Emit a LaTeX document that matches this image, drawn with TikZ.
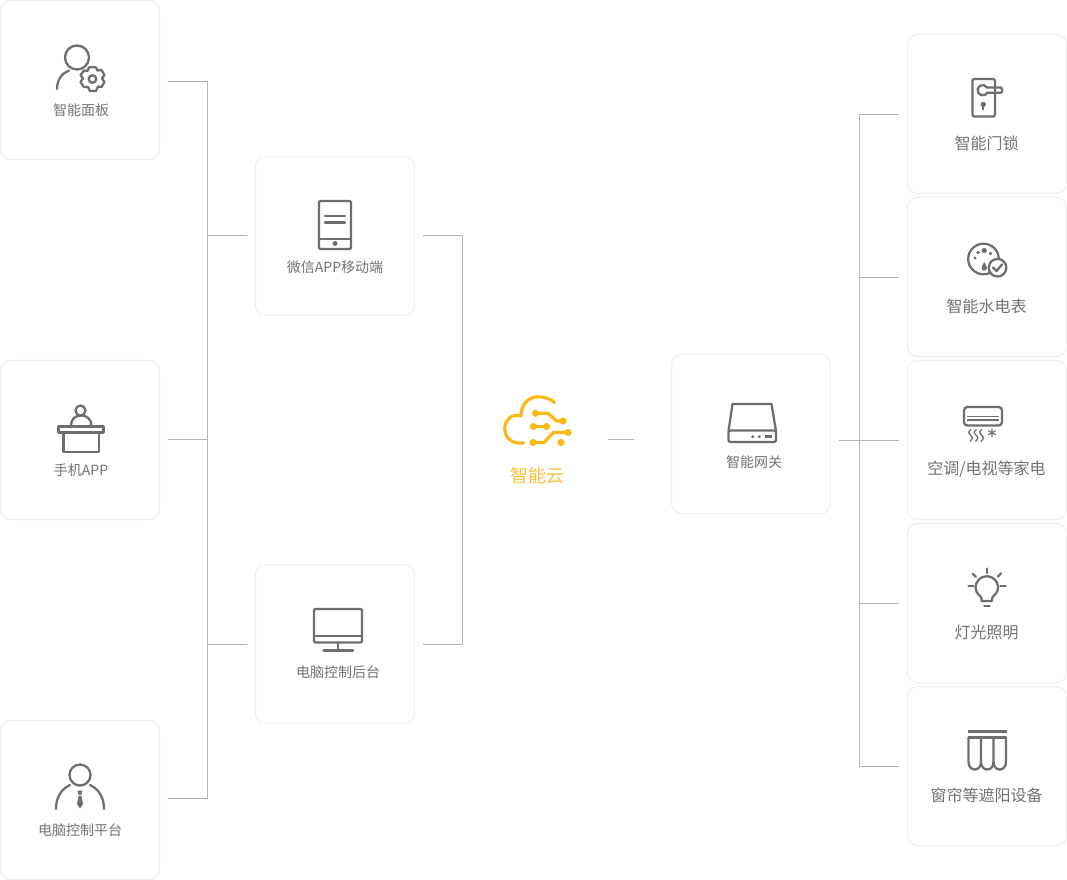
\documentclass[tikz,border=0pt]{standalone}
\usepackage{fontspec}
\setmainfont{Noto Sans CJK SC}
\definecolor{boxline}{HTML}{EEEEEE}
\definecolor{wirec}{HTML}{B4B4B4}
\definecolor{iconc}{HTML}{6E6E6E}
\definecolor{textc}{HTML}{727272}
\definecolor{cloudc}{HTML}{FDB913}
\definecolor{cloudt}{HTML}{FCC13A}
\tikzset{
  card/.style={draw=boxline,line width=0.75pt,fill=white,rounded corners=7.5pt,minimum width=119.25pt,minimum height=119.25pt,inner sep=0pt},
  wire/.style={draw=wirec,line width=0.75pt},
  ico/.style={draw=iconc,line width=1.7pt,line cap=round,line join=round},
  icof/.style={fill=iconc,draw=none},
  cld/.style={draw=cloudc,line width=2.4pt,line cap=round,line join=round},
  cldf/.style={fill=cloudc,draw=none},
  lab/.style={text=textc,inner sep=0pt,font=\fontsize{10.5pt}{12pt}\selectfont},
  labb/.style={text=textc,inner sep=0pt,font=\fontsize{12pt}{14pt}\selectfont},
}
\begin{document}
\begin{tikzpicture}[x=0.75pt,y=-0.75pt]
\useasboundingbox (0,0) rectangle (1067,880);
% cards
\node[card] (a1) at (80,80) {};
\node[card] (a2) at (80,440) {};
\node[card] (a3) at (80,800) {};
\node[card] (b1) at (335,236) {};
\node[card] (b2) at (335,644) {};
\node[card] (gw) at (751,434) {};
\node[card] (r1) at (987,114) {};
\node[card] (r2) at (987,277) {};
\node[card] (r3) at (987,440) {};
\node[card] (r4) at (987,603) {};
\node[card] (r5) at (987,766) {};
% labels
\node[lab] (la1) at (81,110) {智能面板};
\node[lab] (la2) at (81,470) {手机APP};
\node[lab] (la3) at (80,830) {电脑控制平台};
\node[lab] (lb1) at (335,267) {微信APP移动端};
\node[lab] (lb2) at (338,672) {电脑控制后台};
\node[lab] (lgw) at (754,462) {智能网关};
\node[labb] (lr1) at (986.5,143) {智能门锁};
\node[labb] (lr2) at (986.5,306) {智能水电表};
\node[labb] (lr3) at (986.5,469) {空调/电视等家电};
\node[labb] (lr4) at (986.5,632) {灯光照明};
\node[labb] (lr5) at (986.5,795) {窗帘等遮阳设备};
\node[inner sep=0pt,text=cloudt,font=\fontsize{13.5pt}{16pt}\selectfont] (lc) at (537,476) {智能云};
% connector coordinates
\coordinate (a1o) at (168,81.5);
\coordinate (a2o) at (168,439.5);
\coordinate (a3o) at (168,798.5);
\coordinate (j1) at (207.5,235.5);
\coordinate (j2) at (207.5,644.5);
\coordinate (b1i) at (247,235.5);
\coordinate (b2i) at (247,644.5);
\coordinate (b1o) at (423,235.5);
\coordinate (b2o) at (423,644.5);
\coordinate (bb) at (462.5,439.5);
\coordinate (co) at (608,439.5);
\coordinate (gi) at (634,439.5);
\coordinate (go) at (839,440.5);
\coordinate (rj) at (859.5,440.5);
\coordinate (r1i) at (899,114.5);
\coordinate (r2i) at (899,277.5);
\coordinate (r3i) at (899,440.5);
\coordinate (r4i) at (899,603.5);
\coordinate (r5i) at (899,766.5);
% connectors
\draw[wire] (a1o) -| (j1) -- (j2) |- (a3o);
\draw[wire] (a2o) -- (a2o -| j1);
\draw[wire] (j1) -- (b1i);
\draw[wire] (j2) -- (b2i);
\draw[wire] (b1o) -| (bb) |- (b2o);
\draw[wire] (co) -- (gi);
\draw[wire] (go) -- (r3i);
\draw[wire] (r1i) -| (rj) |- (r5i);
\draw[wire] (r2i) -- (r2i -| rj);
\draw[wire] (r4i) -- (r4i -| rj);
% icon a1: person with gear
\draw[ico] (77,57.5) circle (12);
\draw[ico] (57,89) .. controls (57,80) and (62,73) .. (69,70.5);
\draw[ico] (92.5,67) -- (96,67.5) -- (97.5,70.5) -- (101.5,70) -- (104.5,75) -- (102,78.5) -- (104.5,82) -- (101.5,87) -- (98,86.5) -- (96,91) -- (90,91) -- (88,87) -- (84,87) -- (80.5,82) -- (83,78.5) -- (80.5,75) -- (84,70.5) -- (87.5,71) -- (89,67.5) -- cycle;
\draw[ico] (92.5,79) circle (3.8);
% icon a2: desk
\draw[ico] (80.5,410.5) circle (5);
\draw[ico] (71,426) .. controls (71,419) and (75,415.5) .. (81,415.5) .. controls (87,415.5) and (91.5,419) .. (91.5,426);
\draw[ico] (58.5,426.5) rectangle (103.5,432.5);
\draw[ico] (63.5,432.5) -- (63.5,452) -- (99,452) -- (99,432.5);
% icon a3: person with tie
\draw[ico] (80,775) circle (10.5);
\draw[ico] (56,809) .. controls (56,798) and (61,789) .. (70,785);
\draw[ico] (104,809) .. controls (104,798) and (99,789) .. (90,785);
\fill[icof] (77.5,790.5) -- (82.5,790.5) -- (81.2,795) -- (78.8,795) -- cycle;
\fill[icof] (78.6,796) -- (81.4,796) -- (83,804) -- (80,808.5) -- (77,804) -- cycle;
% icon b1: phone
\draw[ico,rounded corners=1pt] (319,201) rectangle (351,249);
\draw[ico] (319,239) -- (351,239);
\draw[ico] (325,216) -- (345,216);
\draw[ico] (325,222.5) -- (345,222.5);
\fill[icof] (335,243.5) circle (2.5);
% icon b2: monitor
\draw[ico,rounded corners=1pt] (314,609) rectangle (362,642.5);
\draw[ico] (314,636) -- (362,636);
\draw[ico] (338,642.5) -- (338,650.5);
\draw[ico] (323.5,650.5) -- (353,650.5);
% cloud
\draw[cld] (554.5,402.5) .. controls (551,399) and (544,396.5) .. (537.5,396.8) .. controls (528,397.2) and (521,405) .. (521,415.5);
\draw[cld] (521,416) .. controls (512,413) and (504.8,420) .. (504.8,428.5) .. controls (504.8,437) and (511,443) .. (518,443) -- (523.5,443);
\draw[cld] (535.5,413.3) -- (548,413.3) -- (556.5,421) -- (563,421);
\fill[cldf] (535.5,413.3) circle (3.6);
\fill[cldf] (563,421) circle (3.6);
\draw[cld] (532.5,426.5) -- (546.5,426.5);
\fill[cldf] (533.5,426.5) circle (3.6);
\fill[cldf] (546.5,426.5) circle (3.6);
\draw[cld] (533,442.5) -- (544,442.5) -- (553.5,432.5) -- (568,432.5);
\fill[cldf] (533,442.5) circle (3.6);
\fill[cldf] (568,432.5) circle (3.6);
\fill[cldf] (561,442.5) circle (3.6);
% gateway icon
\draw[ico] (728.5,431) -- (732.5,404) -- (771.5,404) -- (776,431);
\draw[ico,rounded corners=1.5pt] (728.5,430.5) rectangle (776,442);
\fill[icof] (752.7,436.7) circle (1.6);
\fill[icof] (759.3,436.7) circle (1.6);
\fill[icof] (764.5,435.2) rectangle (771.5,438.2);
% r1 lock
\draw[ico,rounded corners=1.5pt] (972.5,79) rectangle (995,116.5);
\draw[ico] (987.2,87.6) -- (1001,87.6) .. controls (1002.5,87.6) and (1002.5,92.8) .. (1001,92.8) -- (987.2,92.8);
\draw[ico] (987.2,87.6) arc[start angle=-30,end angle=-330,radius=5.2];
\fill[icof] (983.3,104.5) circle (2.7);
\fill[icof] (982.2,105) rectangle (984.4,110);
% r2 meter
\draw[ico] (983.5,259) circle (15.3);
\draw[ico,fill=white] (997.5,267.7) circle (8.8);
\draw[ico] (993,267.5) -- (996.5,271) -- (1002,264.5);
\fill[icof] (984.3,250.5) circle (2.6);
\fill[icof] (978,252.5) circle (1.9);
\fill[icof] (990.5,253.5) circle (1.9);
\fill[icof] (975,258) circle (1.6);
\fill[icof] (984.2,262) .. controls (983,265) and (981.5,266) .. (981.5,268) arc[start angle=180,end angle=0,radius=2.7] .. controls (986.9,266) and (985.4,265) .. (984.2,262) -- cycle;
% r3 AC
\draw[ico,rounded corners=2.5pt] (964,407) rectangle (1002,425.5);
\draw[iconc,line width=1pt] (967,416.5) -- (999,416.5);
\draw[iconc,line width=1pt] (967,420) -- (999,420);
\foreach \wx in {971,976.5,982}{
  \draw[iconc,line width=1pt] (\wx,429.5) .. controls (\wx-3,432) and (\wx-3,433) .. (\wx,435.5) .. controls (\wx+2.5,437.5) and (\wx+1,440) .. (\wx-1,441.5);
}
\draw[iconc,line width=0.8pt] (992,428.5) -- (992,437) (988.3,430.6) -- (995.7,434.9) (995.7,430.6) -- (988.3,434.9);
% r4 bulb
\draw[ico] (981.5,601) -- (981.5,598.5) .. controls (981.5,596) and (975.5,594) .. (975.5,587.5) arc[start angle=180,end angle=360,radius=11.3] .. controls (998.1,594) and (992,596) .. (992,598.5) -- (992,601) -- cycle;
\draw[ico] (984.3,605.8) -- (989.5,605.8);
\draw[ico] (986.8,568.5) -- (986.8,573);
\draw[ico] (968.5,586.3) -- (973.5,586.3);
\draw[ico] (1000.5,586.3) -- (1005.5,586.3);
\draw[ico] (972.8,573.8) -- (975.8,576.8);
\draw[ico] (1001,573.3) -- (998,576.5);
% r5 curtain
\draw[iconc,line width=2.2pt] (967.5,731.3) -- (1006.5,731.3);
\draw[ico] (968.5,737.5) -- (1006,737.5);
\draw[ico] (968.5,737.5) -- (968.5,762) .. controls (968.5,772) and (981,772) .. (981,762) -- (981,737.5);
\draw[ico] (981,762) .. controls (981,772) and (993.5,772) .. (993.5,762) -- (993.5,737.5);
\draw[ico] (993.5,762) .. controls (993.5,772) and (1006,772) .. (1006,762) -- (1006,737.5);
\end{tikzpicture}
\end{document}
